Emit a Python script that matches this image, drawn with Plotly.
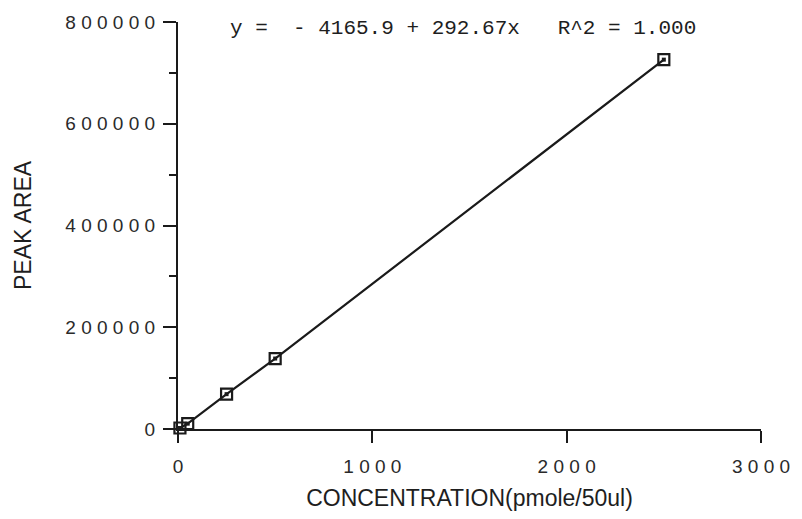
import plotly.graph_objects as go

concentration = [10, 50, 250, 500, 2500]
peak_area = [2000, 10500, 68500, 138500, 726000]

y_tick_vals = [0, 200000, 400000, 600000, 800000]
y_tick_text = ["0", "2 0 0 0 0 0", "4 0 0 0 0 0", "6 0 0 0 0 0", "8 0 0 0 0 0"]
x_tick_vals = [0, 1000, 2000, 3000]
x_tick_text = ["0", "1 0 0 0", "2 0 0 0", "3 0 0 0"]

equation = "y =  - 4165.9 + 292.67x   R^2 = 1.000"

ink = "#1a1a1a"

fig = go.Figure()
fig.add_trace(go.Scatter(
    x=concentration, y=peak_area, mode="lines+markers",
    line=dict(color=ink, width=2.2),
    marker=dict(symbol="square-open", size=11, color=ink, line=dict(width=2.2, color=ink)),
    showlegend=False, cliponaxis=False,
))
fig.add_trace(go.Scatter(
    x=concentration, y=peak_area, mode="markers",
    marker=dict(symbol="square", size=4, color=ink, line=dict(width=0)),
    showlegend=False, cliponaxis=False, hoverinfo="skip",
))

fig.update_layout(
    width=802, height=519,
    margin=dict(l=178, r=34, t=19, b=90),
    paper_bgcolor="white", plot_bgcolor="white",
    font=dict(family="Liberation Sans", color="#2a2a2a"),
    xaxis=dict(
        range=[0, 3000], tickvals=x_tick_vals, ticktext=x_tick_text,
        showgrid=False, zeroline=False, showline=True, linecolor=ink, linewidth=2.2,
        ticks="outside", ticklen=12, tickwidth=2.2, tickcolor=ink,
        tickfont=dict(family="Liberation Sans", size=19, color="#2a2a2a"),
        ticklabelstandoff=7,
        title=dict(text="CONCENTRATION(pmole/50ul)", font=dict(family="Liberation Sans", size=23, color="#1e1e1e"), standoff=14),
    ),
    yaxis=dict(
        range=[0, 800000], tickvals=y_tick_vals, ticktext=y_tick_text,
        showgrid=False, zeroline=False, showline=True, linecolor=ink, linewidth=2.2,
        ticks="outside", ticklen=13, tickwidth=2.2, tickcolor=ink,
        minor=dict(dtick=100000, ticks="outside", ticklen=7, tickwidth=2.2, tickcolor=ink, showgrid=False),
        tickfont=dict(family="Liberation Sans", size=19, color="#2a2a2a"),
        ticklabelstandoff=4,
        title=dict(text="PEAK AREA", font=dict(family="Liberation Sans", size=23, color="#1e1e1e"), standoff=27),
    ),
    annotations=[dict(
        text=equation, xref="paper", yref="paper", x=0.0855, y=1.0, xanchor="left", yanchor="middle",
        yshift=-6, showarrow=False,
        font=dict(family="Liberation Mono", size=21, color="#1e1e1e"),
    )],
)

fig.write_html("out.html")
